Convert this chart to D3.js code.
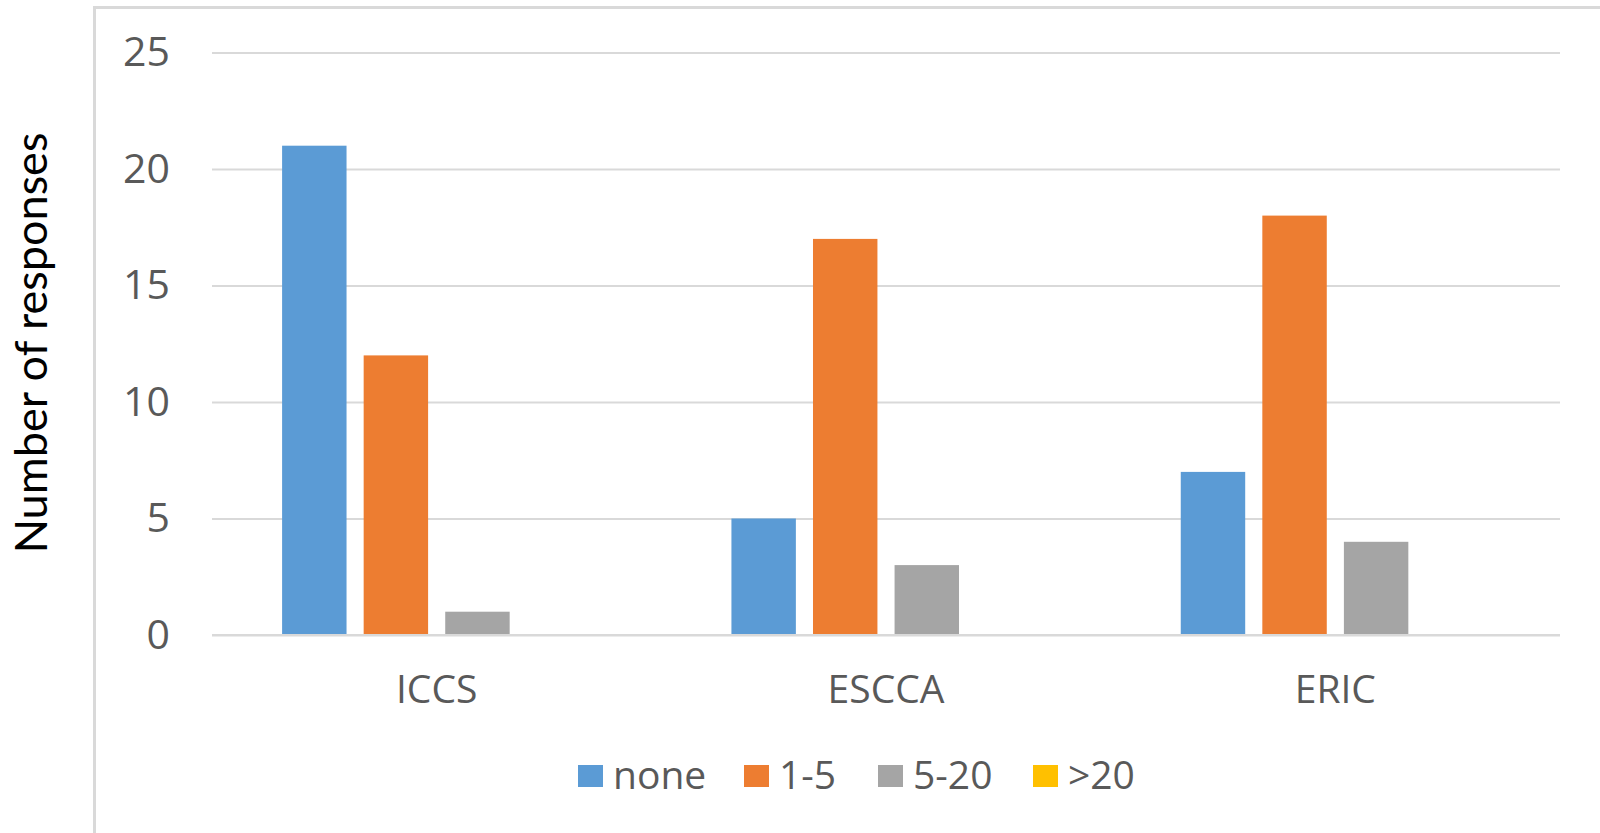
<!DOCTYPE html>
<html>
<head>
<meta charset="utf-8">
<script src="https://cdn.jsdelivr.net/npm/d3@7"></script>
<style>
html, body { margin: 0; padding: 0; background: #fff; }
svg { display: block; }
</style>
</head>
<body>
<svg id="chart" width="1600" height="833"></svg>
<script>
const categories = ["ICCS", "ESCCA", "ERIC"];
const seriesNames = ["none", "1-5", "5-20", ">20"];
const seriesColors = ["#5B9BD5", "#ED7D31", "#A5A5A5", "#FFC000"];
const noneValues = [21, 5, 7];
const oneToFiveValues = [12, 17, 18];
const fiveToTwentyValues = [1, 3, 4];
const overTwentyValues = [0, 0, 0];
const yTicks = [0, 5, 10, 15, 20, 25];
const yTitle = "Number of responses";

const seriesValues = [noneValues, oneToFiveValues, fiveToTwentyValues, overTwentyValues];

const svg = d3.select("#chart");
const W = 1600, H = 833;
const plot = { left: 212, right: 1560, top: 52.5, bottom: 635 };

// chart area border (top and left edges visible)
svg.append("path")
  .attr("d", `M94.5,${H} L94.5,7.5 L${W},7.5`)
  .attr("fill", "none")
  .attr("stroke", "#d9d9d9")
  .attr("stroke-width", 3);

const y = d3.scaleLinear().domain([0, 25]).range([plot.bottom, plot.top]);
const x0 = d3.scaleBand().domain(categories).range([plot.left, plot.right])
  .paddingInner(0.312).paddingOuter(0.156);
const x1 = d3.scaleBand().domain(seriesNames).range([0, x0.bandwidth()])
  .paddingInner(0.21).paddingOuter(0);

// gridlines
const yAxis = d3.axisLeft(y).tickValues(yTicks).tickSize(-(plot.right - plot.left)).tickPadding(42);
const gy = svg.append("g").attr("transform", `translate(${plot.left},0)`).call(yAxis);
gy.select(".domain").remove();
gy.selectAll(".tick line").attr("stroke", "#d9d9d9").attr("stroke-width", 2);
gy.selectAll(".tick text")
  .attr("fill", "#595959")
  .style("font-family", "'Open Sans', sans-serif")
  .style("font-size", "41px");

// bars
const groups = svg.append("g").selectAll("g")
  .data(categories)
  .join("g")
  .attr("transform", d => `translate(${x0(d)},0)`);

groups.selectAll("rect")
  .data((c, i) => seriesNames.map((s, j) => ({ s, v: seriesValues[j][i], color: seriesColors[j] })))
  .join("rect")
  .attr("x", d => x1(d.s))
  .attr("width", x1.bandwidth())
  .attr("y", d => y(d.v))
  .attr("height", d => y(0) - y(d.v))
  .attr("fill", d => d.color);

// x axis
const xAxis = d3.axisBottom(x0).tickSize(0).tickPadding(40);
const gx = svg.append("g").attr("transform", `translate(0,${plot.bottom})`).call(xAxis);
gx.select(".domain").attr("stroke", "#d9d9d9").attr("stroke-width", 2)
  .attr("d", `M${plot.left},0H${plot.right}`);
gx.selectAll(".tick text")
  .attr("fill", "#595959")
  .style("font-family", "'Open Sans', sans-serif")
  .style("font-size", "39px");

// y title
svg.append("text")
  .attr("transform", "translate(47,343) rotate(-90)")
  .attr("text-anchor", "middle")
  .attr("fill", "#000")
  .style("font-family", "Lato, sans-serif")
  .style("font-size", "45px")
  .text(yTitle);

// legend
const legendX = [578, 744, 878, 1033];
const legend = svg.append("g").selectAll("g")
  .data(seriesNames)
  .join("g")
  .attr("transform", (d, i) => `translate(${legendX[i]},765)`);
legend.append("rect")
  .attr("width", 25).attr("height", 22)
  .attr("fill", (d, i) => seriesColors[i]);
legend.append("text")
  .attr("x", 35).attr("y", 24)
  .attr("fill", "#595959")
  .style("font-family", "'Open Sans', sans-serif")
  .style("font-size", "39px")
  .text(d => d);
</script>
</body>
</html>
